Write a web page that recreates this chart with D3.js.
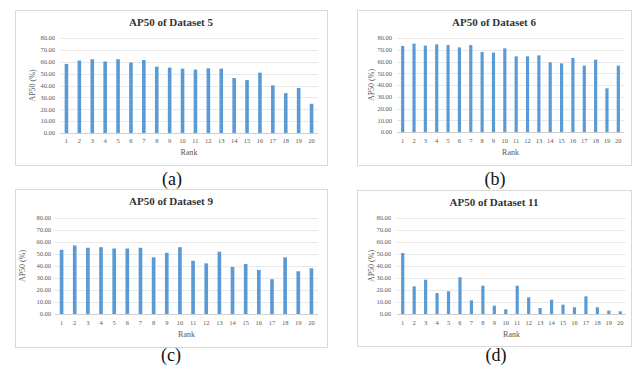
<!DOCTYPE html>
<html>
<head>
<meta charset="utf-8">
<script src="https://cdnjs.cloudflare.com/ajax/libs/d3/7.8.5/d3.min.js"></script>
<style>
body { margin: 0; background: #fff; }
text { font-family: "Liberation Serif", "Times New Roman", serif; }
.tick-label { fill: #595959; font-size: 6.5px; }
.axis-title { fill: #595959; font-size: 8px; }
.chart-title { fill: #333; font-size: 11px; font-weight: bold; }
.caption { fill: #111; font-size: 18px; }
</style>
</head>
<body>
<div id="graphic"></div>
<script>
// ranks on the x axis and AP50 values (%)
var ranks = [1, 2, 3, 4, 5, 6, 7, 8, 9, 10, 11, 12, 13, 14, 15, 16, 17, 18, 19, 20];
var yTicks = [0, 10, 20, 30, 40, 50, 60, 70, 80];

var ap50Dataset5 = [58.2, 61.0, 62.1, 60.2, 62.1, 59.3, 61.5, 55.9, 55.1, 54.2, 53.4, 54.5, 54.2, 46.3, 44.6, 50.8, 40.1, 33.6, 37.9, 24.6];
var ap50Dataset6 = [73.2, 75.2, 73.5, 74.6, 74.0, 72.0, 74.0, 68.1, 67.5, 71.2, 64.4, 64.4, 65.2, 59.3, 58.4, 63.0, 56.5, 61.6, 37.2, 56.5];
var ap50Dataset9 = [53.5, 57.1, 55.2, 55.7, 54.6, 54.6, 55.2, 47.2, 51.0, 55.7, 44.4, 42.2, 51.9, 39.2, 41.7, 36.7, 29.0, 47.2, 35.6, 38.1];
var ap50Dataset11 = [50.8, 23.0, 28.6, 17.5, 18.9, 30.6, 11.4, 23.6, 6.9, 3.9, 23.6, 13.9, 5.0, 11.9, 7.8, 5.6, 14.7, 5.6, 2.8, 2.2];

var svg = d3.select("#graphic").append("svg")
    .attr("width", 632)
    .attr("height", 371);

// one entry per panel: box = frame, plot = inner plot area
var panels = [
    {title: "AP50 of Dataset 5", values: ap50Dataset5, caption: "(a)",
     box: {x: 15, y: 10, w: 312, h: 155}, plot: {l: 60, r: 318, t: 38, b: 133},
     titleY: 22, tickRight: 55, yTitleX: 32, xLabY: 141, rankY: 152, capX: 172, capY: 185},
    {title: "AP50 of Dataset 6", values: ap50Dataset6, caption: "(b)",
     box: {x: 357, y: 10, w: 274, h: 155}, plot: {l: 397, r: 624, t: 38, b: 132},
     titleY: 22, tickRight: 392, yTitleX: 371, xLabY: 141, rankY: 152, capX: 495, capY: 185},
    {title: "AP50 of Dataset 9", values: ap50Dataset9, caption: "(c)",
     box: {x: 15, y: 189, w: 312, h: 158}, plot: {l: 55, r: 318, t: 218, b: 314},
     titleY: 201, tickRight: 51, yTitleX: 22, xLabY: 323, rankY: 334, capX: 171, capY: 361},
    {title: "AP50 of Dataset 11", values: ap50Dataset11, caption: "(d)",
     box: {x: 357, y: 190, w: 274, h: 156}, plot: {l: 397, r: 626, t: 218, b: 314},
     titleY: 202, tickRight: 391, yTitleX: 371, xLabY: 323, rankY: 334, capX: 496, capY: 361}
];

panels.forEach(function (p) {
    var g = svg.append("g");

    // frame
    g.append("rect")
        .attr("x", p.box.x + 0.5)
        .attr("y", p.box.y + 0.5)
        .attr("width", p.box.w)
        .attr("height", p.box.h)
        .attr("fill", "#fff")
        .attr("stroke", "#d9d9d9")
        .attr("stroke-width", 1);

    var x = d3.scaleBand()
        .domain(ranks)
        .range([p.plot.l, p.plot.r])
        .paddingInner(0.72)
        .paddingOuter(0.36);

    var y = d3.scaleLinear()
        .domain([0, 80])
        .range([p.plot.b, p.plot.t]);

    // gridlines
    g.selectAll(".grid")
        .data(yTicks)
        .enter()
        .append("line")
        .attr("x1", p.plot.l)
        .attr("x2", p.plot.r)
        .attr("y1", d => Math.round(y(d)) + 0.5)
        .attr("y2", d => Math.round(y(d)) + 0.5)
        .attr("stroke", d => d === 0 ? "#d0d0d0" : "#e8e8e8")
        .attr("stroke-width", 1);

    // y tick labels
    g.selectAll(".ytick")
        .data(yTicks)
        .enter()
        .append("text")
        .attr("class", "tick-label")
        .attr("x", p.tickRight)
        .attr("y", d => y(d))
        .attr("dy", "0.35em")
        .attr("text-anchor", "end")
        .text(d => d.toFixed(2));

    // bars
    g.selectAll(".bar")
        .data(p.values)
        .enter()
        .append("rect")
        .attr("x", (d, i) => x(ranks[i]))
        .attr("width", x.bandwidth())
        .attr("y", d => y(d))
        .attr("height", d => y(0) - y(d))
        .attr("fill", "#5b9bd5");

    // x tick labels
    g.selectAll(".xtick")
        .data(ranks)
        .enter()
        .append("text")
        .attr("class", "tick-label")
        .attr("x", d => x(d) + x.bandwidth() / 2)
        .attr("y", p.xLabY)
        .attr("dy", "0.35em")
        .attr("text-anchor", "middle")
        .text(d => d);

    g.append("text")
        .attr("class", "axis-title")
        .attr("x", (p.plot.l + p.plot.r) / 2)
        .attr("y", p.rankY)
        .attr("dy", "0.35em")
        .attr("text-anchor", "middle")
        .text("Rank");

    g.append("text")
        .attr("class", "axis-title")
        .attr("transform", "translate(" + p.yTitleX + "," + (p.plot.t + p.plot.b) / 2 + ") rotate(-90)")
        .attr("dy", "0.35em")
        .attr("text-anchor", "middle")
        .text("AP50 (%)");

    g.append("text")
        .attr("class", "chart-title")
        .attr("x", p.box.x + p.box.w / 2)
        .attr("y", p.titleY)
        .attr("dy", "0.35em")
        .attr("text-anchor", "middle")
        .text(p.title);

    svg.append("text")
        .attr("class", "caption")
        .attr("x", p.capX)
        .attr("y", p.capY)
        .attr("text-anchor", "middle")
        .text(p.caption);
});
</script>
</body>
</html>
